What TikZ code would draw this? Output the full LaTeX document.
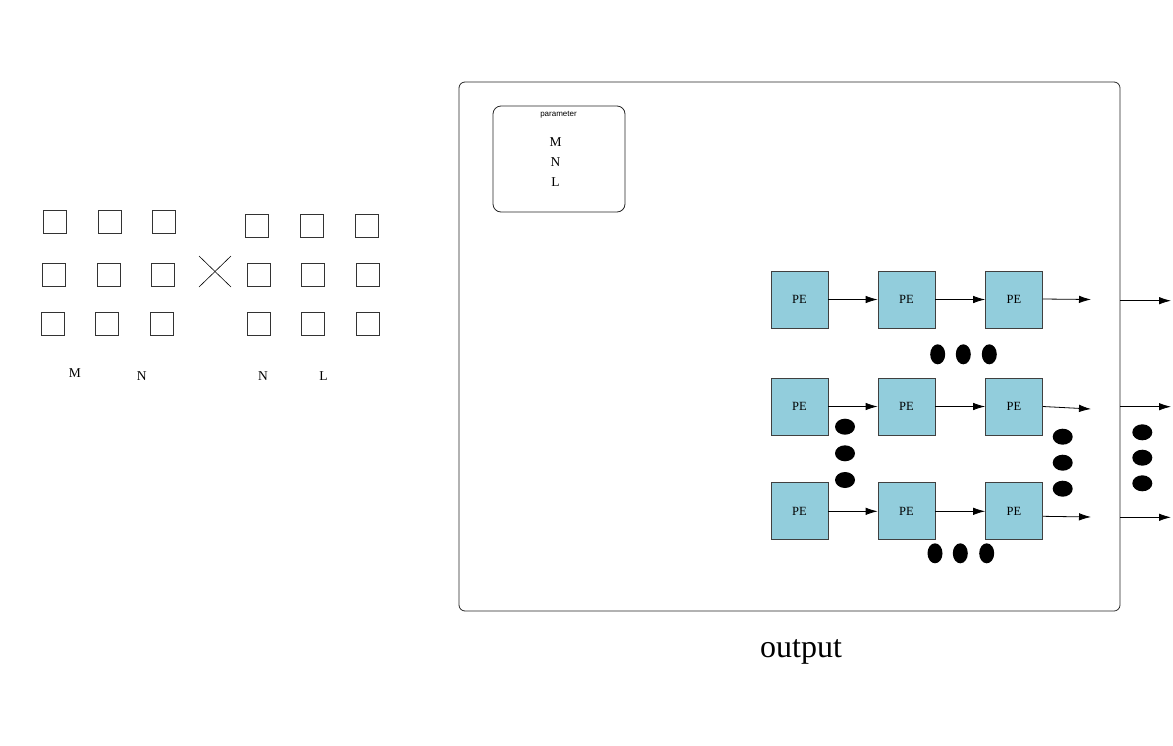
\documentclass[tikz,border=0pt]{standalone}
\usepackage{fontspec}
\setmainfont{Liberation Serif}
\newfontfamily\smallsans{Liberation Sans}
\usetikzlibrary{arrows.meta,shapes.geometric,calc}
\definecolor{peblue}{HTML}{92CDDC}
\begin{document}
\begin{tikzpicture}[x=1pt,y=-1pt,
  cell/.style={draw=black!80,line width=0.8pt,minimum size=23pt,inner sep=0pt},
  pebox/.style={draw=black!75,fill=peblue,line width=0.8pt,minimum size=57pt,inner sep=0pt,font=\fontsize{12.5}{12.5}\selectfont},
  lbl/.style={inner sep=0pt,font=\fontsize{13.5}{13.5}\selectfont},
  arr/.style={-{Latex[length=12pt,width=7.5pt]},line width=0.8pt},
  vdot/.style={ellipse,fill=black,minimum width=15pt,minimum height=20pt,inner sep=0pt},
  hdot/.style={ellipse,fill=black,minimum width=20pt,minimum height=16pt,inner sep=0pt}]
\useasboundingbox (0,0) rectangle (1173,745);
% left matrix
\node[cell] (a11) at (54.7,222.2) {};
\node[cell] (a12) at (109.5,222.2) {};
\node[cell] (a13) at (164,222.2) {};
\node[cell] (a21) at (54,274.8) {};
\node[cell] (a22) at (108.7,274.8) {};
\node[cell] (a23) at (163.3,274.8) {};
\node[cell] (a31) at (52.8,324.3) {};
\node[cell] (a32) at (107.3,324.3) {};
\node[cell] (a33) at (162.2,324.3) {};
% times sign
\coordinate (x1) at (199,256);
\coordinate (x2) at (231,287);
\coordinate (x3) at (199,287);
\coordinate (x4) at (231,256);
\draw[line width=0.6pt] (x1) -- (x2);
\draw[line width=0.6pt] (x3) -- (x4);
% right matrix
\node[cell] (b11) at (256.7,225.8) {};
\node[cell] (b12) at (311.5,225.8) {};
\node[cell] (b13) at (366.5,225.8) {};
\node[cell] (b21) at (258.7,274.8) {};
\node[cell] (b22) at (313.3,274.8) {};
\node[cell] (b23) at (368,274.8) {};
\node[cell] (b31) at (258.7,324.3) {};
\node[cell] (b32) at (313.3,324.3) {};
\node[cell] (b33) at (368,324.3) {};
% labels
\node[lbl] (lm) at (75,373) {M};
\node[lbl] (ln) at (141.7,376) {N};
\node[lbl] (rn) at (263,376) {N};
\node[lbl] (rl) at (323.5,376) {L};
% main box
\node[draw=black!85,line width=0.8pt,rounded corners=6pt,minimum width=661pt,minimum height=529pt,inner sep=0pt] (main) at (789.5,346.5) {};
% parameter box
\node[draw=black!85,line width=0.8pt,rounded corners=8pt,minimum width=132pt,minimum height=106pt,inner sep=0pt] (param) at (559,159) {};
\node[inner sep=0pt,font=\smallsans\fontsize{8}{8}\selectfont] (ptitle) at (558.5,115) {parameter};
\node[lbl] (pm) at (555.5,142) {M};
\node[lbl] (pn) at (555.5,162) {N};
\node[lbl] (pl) at (555.5,182) {L};
% PE array
\node[pebox] (p11) at (799.5,299.5) {PE};
\node[pebox] (p12) at (906.5,299.5) {PE};
\node[pebox] (p13) at (1014,299.5) {PE};
\node[pebox] (p21) at (799.5,406.5) {PE};
\node[pebox] (p22) at (906.5,406.5) {PE};
\node[pebox] (p23) at (1014,406.5) {PE};
\node[pebox] (p31) at (799.5,511.3) {PE};
\node[pebox] (p32) at (906.5,511.3) {PE};
\node[pebox] (p33) at (1014,511.3) {PE};
\draw[arr] (p11) -- (p12);
\draw[arr] (p12) -- (p13);
\draw[arr] (p21) -- (p22);
\draw[arr] (p22) -- (p23);
\draw[arr] (p31) -- (p32);
\draw[arr] (p32) -- (p33);
\coordinate (e1) at (1091,299.5);
\coordinate (e2) at (1091,409);
\coordinate (e3) at (1091,517);
\draw[arr] ([yshift=0.5pt]p13.east) -- (e1);
\draw[arr] (p23.east) -- (e2);
\draw[arr] ([yshift=-5pt]p33.east) -- (e3);
% outputs
\coordinate (o1) at (1171,300.7);
\coordinate (o2) at (1171,406.7);
\coordinate (o3) at (1171,517.3);
\draw[arr] (main.east |- o1) -- (o1);
\draw[arr] (main.east |- o2) -- (o2);
\draw[arr] (main.east |- o3) -- (o3);
% dots
\node[vdot] (t1) at (937.7,354.3) {};
\node[vdot] (t2) at (963.3,354.3) {};
\node[vdot] (t3) at (989.3,354.3) {};
\node[hdot] (l1) at (845,426.7) {};
\node[hdot] (l2) at (845,453.3) {};
\node[hdot] (l3) at (845,480) {};
\node[hdot] (r1) at (1062.7,436.7) {};
\node[hdot] (r2) at (1062.7,462.7) {};
\node[hdot] (r3) at (1062.7,488.7) {};
\node[hdot] (s1) at (1142.3,432.3) {};
\node[hdot] (s2) at (1142.3,457.7) {};
\node[hdot] (s3) at (1142.3,483.3) {};
\node[vdot] (u1) at (935,553.3) {};
\node[vdot] (u2) at (960.3,553.3) {};
\node[vdot] (u3) at (986.7,553.3) {};
% output label
\node[inner sep=0pt,anchor=base,font=\fontsize{32}{32}\selectfont] (out) at (801,657.5) {output};
\end{tikzpicture}
\end{document}
